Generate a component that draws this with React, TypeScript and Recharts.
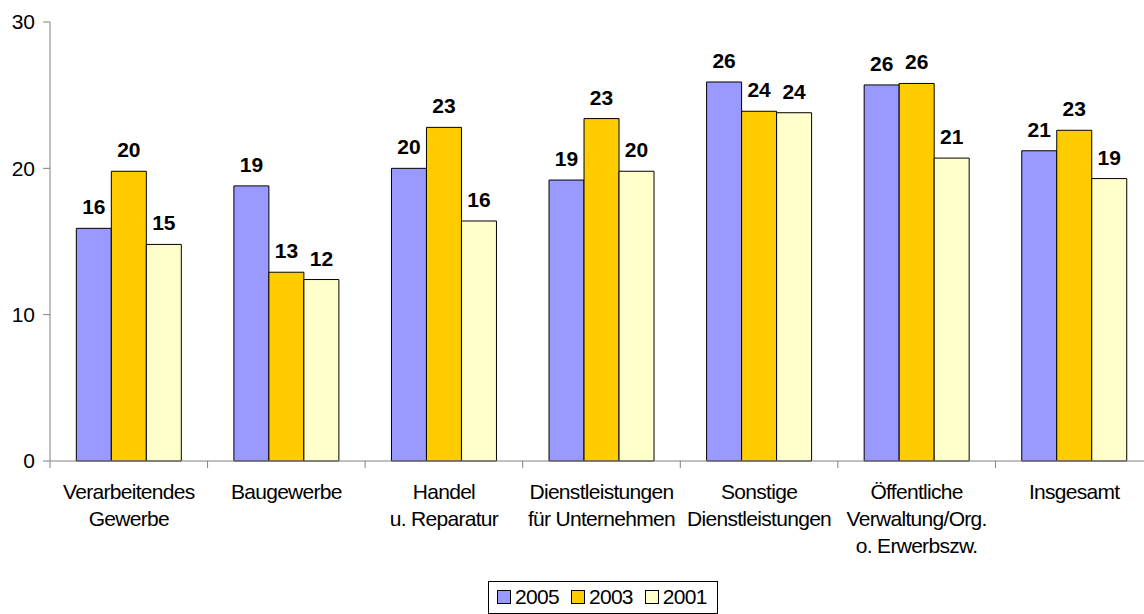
import { BarChart, Bar, XAxis, YAxis, Legend, LabelList } from 'recharts';

const categories = [
  'Verarbeitendes\nGewerbe',
  'Baugewerbe',
  'Handel\nu. Reparatur',
  'Dienstleistungen\nfür Unternehmen',
  'Sonstige\nDienstleistungen',
  'Öffentliche\nVerwaltung/Org.\no. Erwerbszw.',
  'Insgesamt',
];

const values2005 = [15.9, 18.8, 20.0, 19.2, 25.9, 25.7, 21.2];
const values2003 = [19.8, 12.9, 22.8, 23.4, 23.9, 25.8, 22.6];
const values2001 = [14.8, 12.4, 16.4, 19.8, 23.8, 20.7, 19.3];

const yTicks = [0, 10, 20, 30];

const SERIES = [
  { key: 'y2005', name: '2005', color: '#9999FF' },
  { key: 'y2003', name: '2003', color: '#FFCC00' },
  { key: 'y2001', name: '2001', color: '#FFFFCC' },
];

const chartData = categories.map((name, i) => ({
  name,
  y2005: values2005[i],
  y2003: values2003[i],
  y2001: values2001[i],
}));

const FONT = '"Liberation Sans", Arial, sans-serif';
const CHART_W = 1153;
const CHART_H = 614;
const Y_AXIS_W = 50;
const BAND = (CHART_W - Y_AXIS_W) / categories.length;
const AXIS_COLOR = '#808080';

// category label plus an Excel-style tick on the left boundary of each band
function CategoryTick(props: any) {
  const { x, y, payload } = props;
  const lines = String(payload.value).split('\n');
  const axisY = y - 6;
  return (
    <g>
      <line x1={x - BAND / 2} y1={axisY - 2} x2={x - BAND / 2} y2={axisY + 5} stroke={AXIS_COLOR} />
      <text x={x} y={y + 30} textAnchor="middle" fill="#000" fontSize={21} fontFamily={FONT} letterSpacing={-0.7}>
        {lines.map((line, i) => (
          <tspan key={i} x={x} dy={i === 0 ? 0 : 27}>
            {line}
          </tspan>
        ))}
      </text>
    </g>
  );
}

function LegendBox() {
  return (
    <div
      style={{
        display: 'inline-flex',
        alignItems: 'center',
        border: '1px solid #000',
        padding: '4px 10px 5px 8px',
        fontFamily: FONT,
        fontSize: 21,
        letterSpacing: -0.7,
        background: '#fff',
        boxSizing: 'border-box',
        height: 33,
      }}
    >
      {SERIES.map((s, i) => (
        <span key={s.key} style={{ display: 'inline-flex', alignItems: 'center', marginLeft: i === 0 ? 0 : 12 }}>
          <span
            style={{
              display: 'inline-block',
              width: 12,
              height: 12,
              background: s.color,
              border: '1px solid #000',
              marginRight: 4,
            }}
          />
          {s.name}
        </span>
      ))}
    </div>
  );
}

export default function App() {
  return (
    <div style={{ position: 'absolute', left: 0, top: 0, width: 1144, height: 614, overflow: 'hidden', background: '#fff' }}>
      <BarChart
        width={CHART_W}
        height={CHART_H}
        data={chartData}
        margin={{ top: 22, right: 0, bottom: 0, left: 0 }}
        barCategoryGap="16.7%"
        barGap={0}
      >
        <YAxis
          type="number"
          domain={[0, 30]}
          ticks={yTicks}
          width={Y_AXIS_W}
          stroke={AXIS_COLOR}
          tickSize={7}
          tickMargin={8}
          tick={{ fill: '#000', fontSize: 21, fontFamily: FONT }}
          axisLine={{ stroke: AXIS_COLOR }}
          tickLine={{ stroke: AXIS_COLOR }}
        />
        <XAxis
          dataKey="name"
          height={120}
          interval={0}
          tickLine={false}
          axisLine={{ stroke: AXIS_COLOR }}
          tick={<CategoryTick />}
        />
        {SERIES.map((s) => (
          <Bar key={s.key} dataKey={s.key} name={s.name} fill={s.color} stroke="#000" strokeWidth={1} isAnimationActive={false}>
            <LabelList
              dataKey={s.key}
              position="top"
              offset={14}
              formatter={(v: any) => Math.round(Number(v))}
              style={{ fill: '#000', fontSize: 21, fontWeight: 'bold', fontFamily: FONT }}
            />
          </Bar>
        ))}
        <Legend verticalAlign="bottom" content={<LegendBox />} wrapperStyle={{ left: 488, width: 'auto', bottom: 0 }} />
      </BarChart>
    </div>
  );
}
